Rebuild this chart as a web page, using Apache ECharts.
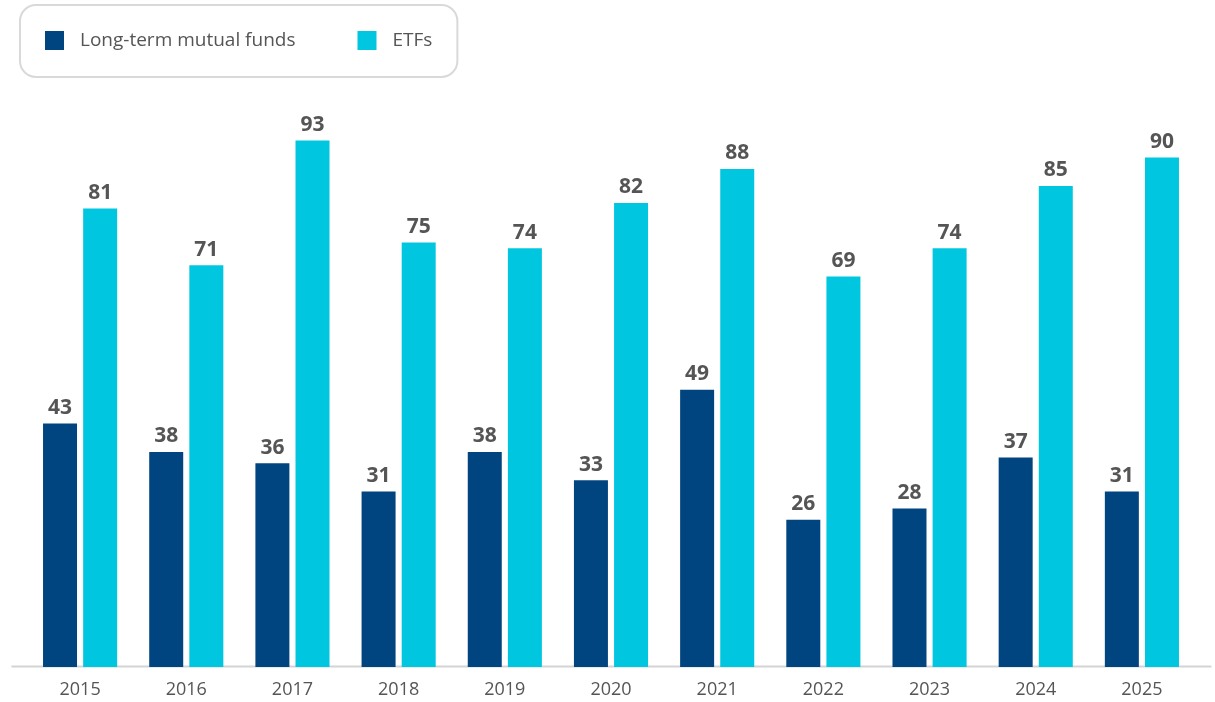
<!DOCTYPE html>
<html><head><meta charset="utf-8">
<script src="https://cdn.jsdelivr.net/npm/echarts@6/dist/echarts.min.js"></script>
<style>html,body{margin:0;padding:0;background:#fff}#c{width:1215px;height:702px}</style>
</head><body><div id="c"></div>
<script>
var categories = ['2015','2016','2017','2018','2019','2020','2021','2022','2023','2024','2025'];
var mutualFunds = [43,38,36,31,38,33,49,26,28,37,31];
var etfs = [81,71,93,75,74,82,88,69,74,85,90];
var seriesNames = ['Long-term mutual funds','ETFs'];

var FONT = '"Open Sans", "Liberation Sans", sans-serif';
var chart = echarts.init(document.getElementById('c'));
chart.setOption({
  animation: false,
  textStyle: {fontFamily: FONT},
  color: ['#00457f', '#00c7df'],
  legend: {
    left: 20, top: 5,
    padding: [26, 25, 27, 25],
    borderColor: '#d9d9d9', borderWidth: 2, borderRadius: 16,
    itemWidth: 19, itemHeight: 19, itemGap: 62,
    icon: 'rect',
    textStyle: {fontFamily: FONT, fontSize: 19, color: '#555', padding: [0,0,0,11]},
    data: seriesNames
  },
  grid: {left: 27, right: 20, top: 101, bottom: 35, containLabel: false},
  xAxis: {
    type: 'category', data: categories,
    axisLine: {show: false}, axisTick: {show: false},
    axisLabel: {color: '#555', fontSize: 18, margin: 14, fontFamily: FONT}
  },
  yAxis: {type: 'value', min: 0, max: 100, show: false, splitLine: {show: false}},
  graphic: [{
    type: 'line', left: 9, bottom: 33, z: -1,
    shape: {x1: 0, y1: 0, x2: 1200, y2: 0},
    style: {stroke: '#d4d4d4', lineWidth: 2}
  }],
  series: [
    {name: seriesNames[0], type: 'bar', data: mutualFunds, barWidth: 34, barGap: '18%',
     label: {show: true, position: 'top', distance: 5, color: '#555', fontSize: 21, fontWeight: 'bold', fontFamily: FONT}},
    {name: seriesNames[1], type: 'bar', data: etfs, barWidth: 34, barGap: '18%',
     label: {show: true, position: 'top', distance: 5, color: '#555', fontSize: 21, fontWeight: 'bold', fontFamily: FONT}}
  ]
});
</script></body></html>
